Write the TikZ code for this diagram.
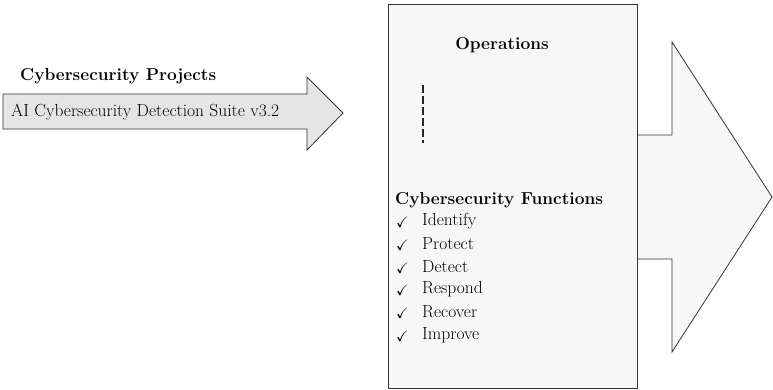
\documentclass[tikz,border=0pt]{standalone}
\usepackage{amssymb}
\begin{document}
\begin{tikzpicture}[x=1pt,y=-1pt,
  shapeline/.style={draw=black!80, line width=0.8pt},
  headtext/.style={font=\fontsize{17.3}{20}\selectfont\bfseries, inner sep=0pt},
  bodytext/.style={font=\fontsize{17.5}{20}\selectfont, inner sep=0pt},
  itemtext/.style={font=\fontsize{17.5}{20}\selectfont, inner sep=0pt, anchor=west},
  checktext/.style={font=\fontsize{15}{16}\selectfont, inner sep=0pt, anchor=west}]
\useasboundingbox (0,0) rectangle (773,390);
% left arrow
\draw[shapeline, fill=black!10] (3,94) -- (307,94) -- (307,77) -- (343,113) -- (307,150) -- (307,129) -- (3,129) -- cycle;
\node[headtext, anchor=west] (proj) at (20,76) {Cybersecurity Projects};
\node[bodytext, anchor=west] (suite) at (11,112) {AI Cybersecurity Detection Suite v3.2};
% big arrow behind box
\draw[shapeline, fill=black!3] (637,135) -- (672,135) -- (672,42) -- (772,197) -- (672,352) -- (672,259) -- (637,259) -- cycle;
% box
\draw[shapeline, fill=black!3] (388,4) rectangle (637,388);
\node[headtext] (ops) at (502,45) {Operations};
\coordinate (dtop) at (423,85);
\coordinate (dbot) at (423,143);
\draw[line width=2.6pt, dash pattern=on 8pt off 3pt, black!85] (dtop) -- (dbot);
\node[headtext, anchor=west] (func) at (395,200) {Cybersecurity Functions};
\foreach \t/\y/\n in {Identify/221/a, Protect/244/b, Detect/267/c, Respond/289/d, Recover/312/e, Improve/335/f}{
  \node[checktext] (c\n) at (396,\y+1.5) {$\checkmark$};
  \node[itemtext] (i\n) at (422,\y) {\t};
}
\end{tikzpicture}
\end{document}
